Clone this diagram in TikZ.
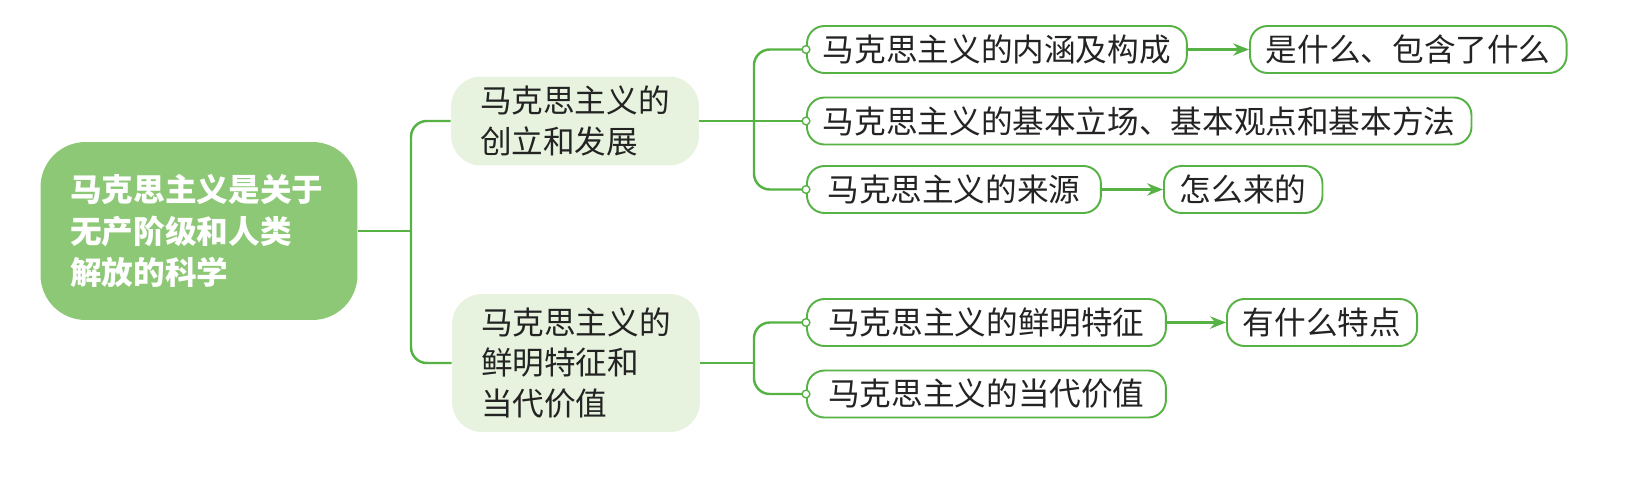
\documentclass[tikz,border=0pt]{standalone}
\usepackage{fontspec}
\setmainfont{Noto Sans CJK SC}
\usepackage{xcolor}
\usetikzlibrary{arrows.meta}

\definecolor{verde}{RGB}{86,178,68}
\definecolor{verdemedio}{RGB}{141,200,118}
\definecolor{verdeclaro}{RGB}{231,243,223}
\definecolor{texto}{RGB}{35,35,35}

\tikzset{
  raiz/.style={fill=verdemedio, rounded corners=0.9cm, text=white,
    font=\fontsize{18}{23.5}\selectfont\bfseries, align=left,
    text width=5.15cm, minimum width=6.34cm, minimum height=3.56cm, inner sep=0pt},
  tema/.style={fill=verdeclaro, rounded corners=0.6cm, text=texto,
    font=\fontsize{18}{23}\selectfont, align=left,
    text width=3.8cm, minimum width=4.96cm, inner sep=0pt},
  item/.style={draw=verde, line width=1.1pt, fill=white, rounded corners=0.35cm,
    text=texto, font=\fontsize{18}{22}\selectfont, anchor=west,
    minimum height=0.94cm, inner xsep=0.32cm, inner ysep=0pt},
  liga/.style={draw=verde, line width=1.4pt, rounded corners=9pt},
  seta/.style={draw=verde, line width=1.4pt, -{Stealth[length=9pt,width=7pt]}},
  ponto/.style={draw=verde, fill=white, line width=0.8pt}
}

\begin{document}
\begin{tikzpicture}[x=0.02cm, y=-0.02cm]

\useasboundingbox (0,0) rectangle (1646,480);

% No central
\node[raiz] (raiz) at (199,231) {马克思主义是关于\\无产阶级和人类\\解放的科学};

% Temas
\node[tema, minimum height=1.78cm] (criacao) at (575,121) {马克思主义的\\创立和发展};
\node[tema, minimum height=2.76cm] (carater) at (576,363) {马克思主义的\\鲜明特征和\\当代价值};

% Itens do primeiro tema
\node[item] (conteudo) at (806,49.5) {马克思主义的内涵及构成};
\node[item] (metodo) at (806,121) {马克思主义的基本立场、基本观点和基本方法};
\node[item, minimum width=5.88cm] (fonte) at (806,189.5) {马克思主义的来源};

% Itens do segundo tema
\node[item, minimum width=7.18cm] (traco) at (806,322.5) {马克思主义的鲜明特征};
\node[item, minimum width=7.18cm] (valor) at (806,394) {马克思主义的当代价值};

% Perguntas
\node[item] (oque) at (1249,49.5) {是什么、包含了什么};
\node[item] (como) at (1163,189.5) {怎么来的};
\node[item] (quais) at (1226,322.5) {有什么特点};

% Pontos de ramificacao
\coordinate (garfo1) at (411,231);
\coordinate (garfo2) at (754,121);
\coordinate (garfo3) at (754,363);

% Ligacoes do no central
\draw[liga] (raiz.east) -- (garfo1);
\draw[liga] (garfo1) |- (criacao.west);
\draw[liga] (garfo1) |- (carater.west);

% Ligacoes do primeiro tema
\draw[liga] (criacao.east) -- (garfo2);
\draw[liga] (garfo2) |- (conteudo.west);
\draw[liga] (garfo2) -- (metodo.west);
\draw[liga] (garfo2) |- (fonte.west);

% Ligacoes do segundo tema
\draw[liga] (carater.east) -- (garfo3);
\draw[liga] (garfo3) |- (traco.west);
\draw[liga] (garfo3) |- (valor.west);

% Pontinhos nas entradas
\foreach \n in {conteudo, metodo, fonte, traco, valor}
  \draw[ponto] (\n.west) circle[radius=2.2pt];

% Setas
\draw[seta] (conteudo) -- (oque);
\draw[seta] (fonte) -- (como);
\draw[seta] (traco) -- (quais);

\end{tikzpicture}
\end{document}
